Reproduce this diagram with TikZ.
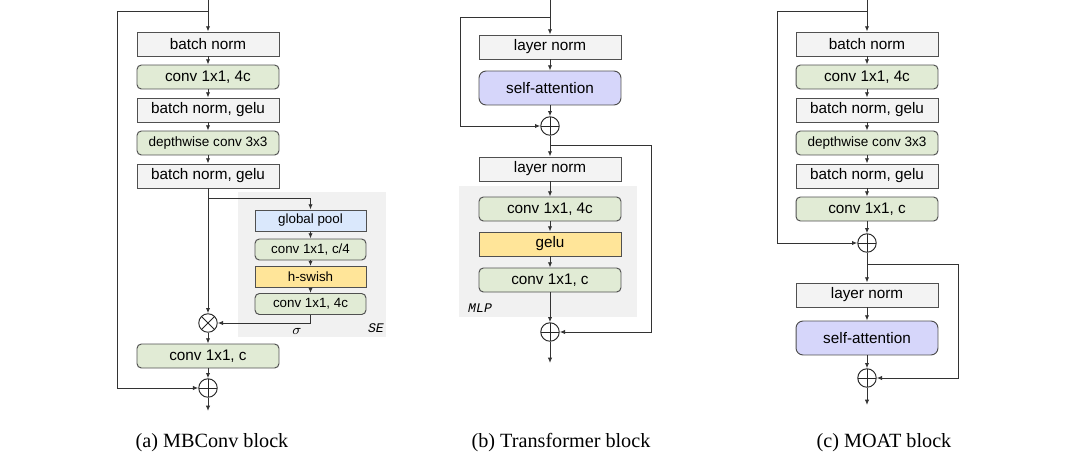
\documentclass[tikz,border=0pt]{standalone}
\usepackage{fontspec}
\setmainfont{Liberation Serif}
\setsansfont{Liberation Sans}
\setmonofont{Liberation Mono}
\usetikzlibrary{arrows.meta}

\definecolor{boxline}{RGB}{80,80,80}
\definecolor{normgray}{RGB}{243,243,243}
\definecolor{convgreen}{RGB}{225,235,213}
\definecolor{poolblue}{RGB}{218,232,252}
\definecolor{swishyellow}{RGB}{255,229,153}
\definecolor{attnpurple}{RGB}{214,214,250}
\definecolor{regiongray}{RGB}{241,241,241}

\tikzset{
  blk/.style={draw=boxline, line width=0.55pt, minimum width=2.84cm, minimum height=0.48cm, inner sep=0pt, font=\sffamily\fontsize{8.7}{10}\selectfont},
  normblk/.style={blk, fill=normgray},
  convblk/.style={blk, fill=convgreen, rounded corners=2.5pt},
  attnblk/.style={blk, fill=attnpurple, rounded corners=4pt, minimum height=0.68cm},
  seblk/.style={minimum width=2.22cm, minimum height=0.42cm, font=\sffamily\fontsize{7.6}{9}\selectfont},
  smalltext/.style={font=\sffamily\fontsize{7.7}{9}\selectfont},
  addop/.style={circle, draw=black!85, line width=0.55pt, minimum size=0.37cm, inner sep=0pt,
    path picture={\draw[line width=0.55pt, black!85] (path picture bounding box.north) -- (path picture bounding box.south)
      (path picture bounding box.west) -- (path picture bounding box.east);}},
  mulop/.style={circle, draw=black!85, line width=0.55pt, minimum size=0.37cm, inner sep=0pt,
    path picture={\draw[line width=0.55pt, black!85] (path picture bounding box.north west) -- (path picture bounding box.south east)
      (path picture bounding box.north east) -- (path picture bounding box.south west);}},
  flow/.style={draw=black!80, line width=0.5pt, -{Latex[length=3pt,width=2.4pt]}},
  tagtext/.style={font=\ttfamily\itshape\fontsize{7.5}{9}\selectfont},
  caption/.style={font=\fontsize{11.5}{13}\selectfont}
}

\begin{document}
\begin{tikzpicture}[x=0.02cm,y=-0.02cm]
\useasboundingbox (0,0) rectangle (1080,460);

% grey panels behind SE and MLP
\fill[regiongray] (238,192) rectangle (386,337);
\fill[regiongray] (459,186) rectangle (637,317);

% (a) MBConv block
\coordinate (ain) at (208,0);
\coordinate (asplit) at (208,11);
\coordinate (acorner) at (117,11);
\node[normblk] (a1) at (208,44) {batch norm};
\node[convblk] (a2) at (208,77) {conv 1x1, 4c};
\node[normblk] (a3) at (208,110) {batch norm, gelu};
\node[convblk, smalltext] (a4) at (208,143) {depthwise conv 3x3};
\node[normblk] (a5) at (208,176) {batch norm, gelu};
\coordinate (abranch) at (208,198);
\node[blk, seblk, fill=poolblue] (se1) at (310.5,220.5) {global pool};
\node[convblk, seblk] (se2) at (310.5,249.5) {conv 1x1, c/4};
\node[blk, seblk, fill=swishyellow] (se3) at (310.5,277) {h-swish};
\node[convblk, seblk] (se4) at (310.5,304) {conv 1x1, 4c};
\node[mulop] (amul) at (208,323) {};
\node[font=\fontsize{8.5}{9}\selectfont] (asig) at (297,331) {$\sigma$};
\node[tagtext] (setag) at (376,328) {SE};
\node[convblk] (a6) at (208,356) {conv 1x1, c};
\node[addop] (aadd) at (208,388) {};
\coordinate (aout) at (208,411);

\draw[flow] (ain) -- (a1);
\draw[flow] (a1) -- (a2);
\draw[flow] (a2) -- (a3);
\draw[flow] (a3) -- (a4);
\draw[flow] (a4) -- (a5);
\draw[flow] (a5) -- (amul);
\draw[flow] (abranch) -| (se1);
\draw[flow] (se1) -- (se2);
\draw[flow] (se2) -- (se3);
\draw[flow] (se3) -- (se4);
\draw[flow] (se4) |- (amul);
\draw[flow] (amul) -- (a6);
\draw[flow] (a6) -- (aadd);
\draw[flow] (aadd) -- (aout);
\draw[flow] (asplit) -- (acorner) |- (aadd);

% (b) Transformer block
\coordinate (bin) at (550,0);
\coordinate (bsplit) at (550,17);
\coordinate (bcorner) at (460,17);
\node[normblk] (b1) at (550,47) {layer norm};
\node[attnblk] (b2) at (550,88) {self-attention};
\node[addop] (badd1) at (550,126) {};
\coordinate (bbranch) at (550,145);
\coordinate (bcorner2) at (651,145);
\node[normblk] (b3) at (550,169) {layer norm};
\node[convblk] (b4) at (550,209) {conv 1x1, 4c};
\node[blk, fill=swishyellow] (b5) at (550,244) {gelu};
\node[convblk] (b6) at (550,280) {conv 1x1, c};
\node[tagtext, anchor=west] (mlptag) at (462,308) {MLP};
\node[addop] (badd2) at (550,332) {};
\coordinate (bout) at (550,363);

\draw[flow] (bin) -- (b1);
\draw[flow] (b1) -- (b2);
\draw[flow] (b2) -- (badd1);
\draw[flow] (bsplit) -- (bcorner) |- (badd1);
\draw[flow] (badd1) -- (b3);
\draw[flow] (b3) -- (b4);
\draw[flow] (b4) -- (b5);
\draw[flow] (b5) -- (b6);
\draw[flow] (b6) -- (badd2);
\draw[flow] (bbranch) -- (bcorner2) |- (badd2);
\draw[flow] (badd2) -- (bout);

% (c) MOAT block
\coordinate (cin) at (867,0);
\coordinate (csplit) at (867,11);
\coordinate (ccorner) at (777,11);
\node[normblk] (c1) at (867,44) {batch norm};
\node[convblk] (c2) at (867,77) {conv 1x1, 4c};
\node[normblk] (c3) at (867,110) {batch norm, gelu};
\node[convblk, smalltext] (c4) at (867,143) {depthwise conv 3x3};
\node[normblk] (c5) at (867,176) {batch norm, gelu};
\node[convblk] (c6) at (867,209) {conv 1x1, c};
\node[addop] (cadd1) at (867,243) {};
\coordinate (cbranch) at (867,264);
\coordinate (ccorner2) at (958,264);
\node[normblk] (c7) at (867,295) {layer norm};
\node[attnblk] (c8) at (867,338) {self-attention};
\node[addop] (cadd2) at (867,378) {};
\coordinate (cout) at (867,405);

\draw[flow] (cin) -- (c1);
\draw[flow] (c1) -- (c2);
\draw[flow] (c2) -- (c3);
\draw[flow] (c3) -- (c4);
\draw[flow] (c4) -- (c5);
\draw[flow] (c5) -- (c6);
\draw[flow] (c6) -- (cadd1);
\draw[flow] (csplit) -- (ccorner) |- (cadd1);
\draw[flow] (cadd1) -- (c7);
\draw[flow] (c7) -- (c8);
\draw[flow] (c8) -- (cadd2);
\draw[flow] (cbranch) -- (ccorner2) |- (cadd2);
\draw[flow] (cadd2) -- (cout);

% captions
\node[caption] (capa) at (212,443) {(a) MBConv block};
\node[caption] (capb) at (561,443) {(b) Transformer block};
\node[caption] (capc) at (884,443) {(c) MOAT block};
\end{tikzpicture}
\end{document}
